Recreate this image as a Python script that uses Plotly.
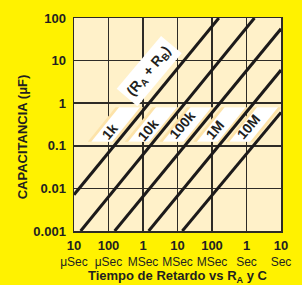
import plotly.graph_objects as go
import numpy as np

# ---- axis ticks ----
x_tickvals = [1e-5, 1e-4, 1e-3, 1e-2, 1e-1, 1, 10]
x_ticknum = ["10", "100", "1", "10", "100", "1", "10"]
x_tickunit = ["μSec", "μSec", "MSec", "MSec", "MSec", "Sec", "Sec"]
y_tickvals = [0.001, 0.01, 0.1, 1, 10, 100]
y_ticktext = ["0.001", "0.01", "0.1", "1", "10", "100"]

# ---- resistor lines (time in s, capacitance in uF) ----
resistors = ["1k", "10k", "100k", "1M", "10M"]
t_start = [1.0e-5, 1.56e-5, 1.51e-4, 1.46e-3, 1.38e-2]
c_start = [0.0071, 0.001, 0.001, 0.001, 0.001]
t_end = [0.158, 1.70, 10.0, 10.0, 10.0]
c_end = [100.0, 100.0, 55.8, 6.0, 0.61]

# label boxes: bottom-left time of each white parallelogram
box_left_t = [10 ** -4.5, 10 ** -3.43, 10 ** -2.43, 10 ** -1.44, 10 ** -0.5]
box_c_bottom = 0.125
box_c_top = 0.80
label_t = [10 ** -3.95, 10 ** -2.86, 10 ** -1.86, 10 ** -0.92, 10 ** 0.05]
label_c = [10 ** -0.66, 10 ** -0.62, 10 ** -0.52, 10 ** -0.62, 10 ** -0.56]

FONT = "Liberation Sans"
INK = "#231f20"
GRID = "#2e2b26"

fig = go.Figure()

# box geometry (in decades)
W = 0.608
S = np.log10(box_c_top) - np.log10(box_c_bottom)
for b in box_left_t:
    lb = np.log10(b)
    for pad, col in ((0.10, "#fde3a9"), (0.0, "#ffffff")):
        xs = [lb - pad, lb + W + pad, lb + W + S + pad, lb + S - pad, lb - pad]
        ys = [box_c_bottom, box_c_bottom, box_c_top, box_c_top, box_c_bottom]
        fig.add_trace(go.Scatter(
            x=[10 ** v for v in xs], y=ys, mode="lines", fill="toself",
            fillcolor=col, line=dict(width=0), hoverinfo="skip",
            showlegend=False))

for r, ts, cs, te, ce in zip(resistors, t_start, c_start, t_end, c_end):
    fig.add_trace(go.Scatter(
        x=[ts, te], y=[cs, ce], mode="lines", name=r,
        line=dict(color="#1c1a1a", width=3), showlegend=False))

for r, lt, lc in zip(resistors, label_t, label_c):
    fig.add_annotation(
        x=np.log10(lt), y=np.log10(lc), xref="x", yref="y",
        text=f"<b>{r}</b>", showarrow=False, textangle=-50,
        font=dict(family=FONT, size=14, color=INK))

fig.add_annotation(
    x=-2.82, y=0.76, xref="x", yref="y",
    text="<b>(R<sub>A</sub> + R<sub>B</sub>)</b>", showarrow=False,
    textangle=-50, bgcolor="#ffffff", borderpad=4,
    font=dict(family=FONT, size=14, color=INK))

# axis titles
fig.add_annotation(
    x=0.5, y=-0.214, xref="paper", yref="paper", xanchor="center",
    yanchor="middle", showarrow=False,
    text="<b>Tiempo de Retardo vs R<sub>A</sub> y C</b>",
    font=dict(family=FONT, size=13, color=INK))
fig.add_annotation(
    x=-0.249, y=0.442, xref="paper", yref="paper", xanchor="center",
    yanchor="middle", showarrow=False, textangle=-90,
    text="<b>CAPACITANCIA (μF)</b>",
    font=dict(family=FONT, size=13, color=INK))

fig.update_layout(
    width=302, height=285,
    margin=dict(l=74, r=11, t=14, b=54),
    paper_bgcolor="#fff200",
    plot_bgcolor="#fff1c9",
    font=dict(family=FONT, color=INK),
    xaxis=dict(
        type="log", range=[-5, 1],
        tickvals=x_tickvals,
        ticktext=[f"<span style='font-size:13px'><b>{n}</b></span><br>{u}"
                  for n, u in zip(x_ticknum, x_tickunit)],
        tickfont=dict(family=FONT, size=12, color=INK),
        showgrid=True, gridcolor=GRID, gridwidth=1.5,
        showline=True, mirror=True, linecolor=GRID, linewidth=1.5,
        ticks="", zeroline=False, ticklabelstandoff=3,
    ),
    yaxis=dict(
        type="log", range=[-3, 2],
        tickvals=y_tickvals, ticktext=[f"<b>{t}</b>" for t in y_ticktext],
        tickfont=dict(family=FONT, size=13, color=INK),
        showgrid=True, gridcolor=GRID, gridwidth=1.5,
        showline=True, mirror=True, linecolor=GRID, linewidth=1.5,
        ticks="", zeroline=False, ticklabelstandoff=4,
    ),
)

fig.write_html(
    "out.html",
    config={"displayModeBar": False, "staticPlot": True},
    post_script="document.body.style.margin='0';document.body.style.overflow='hidden';",
)
